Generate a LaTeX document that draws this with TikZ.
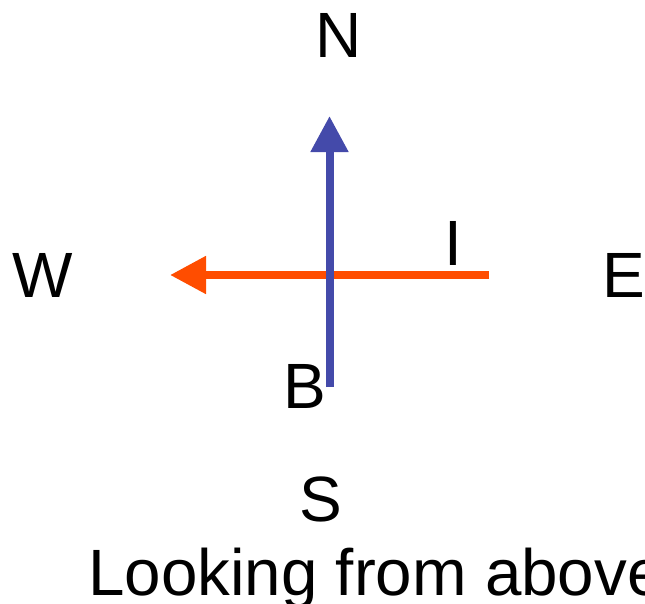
\documentclass[tikz,border=0pt]{standalone}
\usepackage{fontspec}
\setmainfont{Liberation Sans}
\usetikzlibrary{arrows.meta}
\definecolor{bfield}{RGB}{68,74,170}
\definecolor{icur}{RGB}{255,77,0}
\begin{document}
\begin{tikzpicture}[x=1pt,y=-1pt,
  lbl/.style={inner sep=0pt,anchor=base,font=\fontsize{64}{76}\selectfont},
  vec/.style={line width=8pt,-{Triangle[length=36pt,width=36pt]}}]
\useasboundingbox (0,0) rectangle (645,603);
\node[lbl] (n) at (338.5,57) {N};
\node[lbl] (w) at (43,297) {W};
\node[lbl] (e) at (624,297) {E};
\node[lbl] (i) at (453,265) {I};
\node[lbl] (b) at (305,408) {B};
\node[lbl] (s) at (321,521) {S};
\node[lbl,anchor=base west,font=\fontsize{65.5}{78}\selectfont] (cap) at (88.2,595) {Looking from above};
\coordinate (itail) at (489,275);
\coordinate (ihead) at (170,275);
\coordinate (btail) at (329.5,387);
\coordinate (bhead) at (329.5,116);
\draw[vec,icur] (itail) -- (ihead);
\draw[vec,bfield] (btail) -- (bhead);
\end{tikzpicture}
\end{document}
